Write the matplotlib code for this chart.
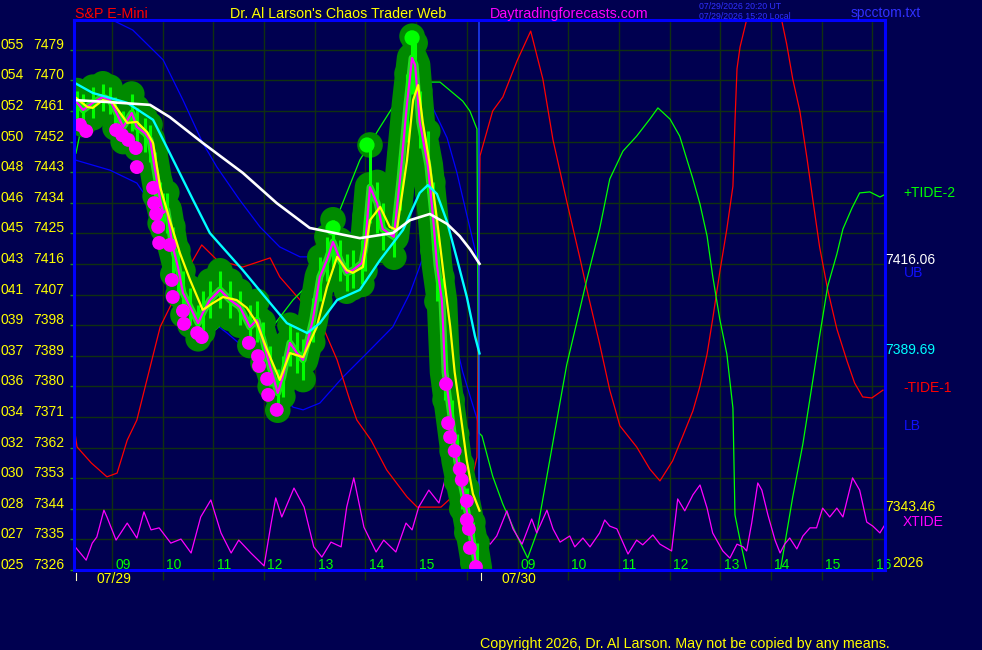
import matplotlib
matplotlib.use('Agg')
import matplotlib.pyplot as plt

W, H = 982, 650
FONT = ['Liberation Sans', 'DejaVu Sans']
BG = '#000050'
GRID = '#103010'

# ---------------- data (time in hours from 08:15 on 07/29; prices) ----------------
price_ticks = [7326, 7335, 7344, 7353, 7362, 7371, 7380, 7389, 7398, 7407,
               7416, 7425, 7434, 7443, 7452, 7461, 7470, 7479]
tick_codes = ['025', '027', '028', '030', '032', '034', '036', '037', '039', '041',
              '043', '045', '046', '048', '050', '052', '054', '055']
hour_grid = [0.75 + k for k in range(16)]
day1_hours = ['09', '10', '11', '12', '13', '14', '15']
day2_hours = ['09', '10', '11', '12', '13', '14', '15', '16']
day_labels = ['07/29', '07/30']
day_starts = [0.0, 8.0]

price_t = [0.06, 0.18, 0.37, 0.57, 0.71, 0.81, 0.97, 1.14, 1.24, 1.40, 1.50, 1.60, 1.70,
           1.76, 1.83, 1.95, 2.05, 2.15, 2.29, 2.45, 2.54, 2.68, 2.88, 3.08, 3.27, 3.47,
           3.61, 3.73, 3.87, 4.02, 4.12, 4.26, 4.40, 4.52, 4.71, 4.85, 4.99, 5.11, 5.25,
           5.38, 5.50, 5.68, 5.74, 5.84, 5.98, 6.09, 6.31, 6.43, 6.57, 6.67, 6.73, 6.82,
           6.98, 7.08, 7.16, 7.26, 7.32, 7.46, 7.55, 7.65, 7.75, 7.87, 7.95]
price_c = [7463.4, 7461.3, 7463.4, 7465.1, 7464.2, 7461.3, 7456.3, 7460.4, 7456.3, 7454.5,
           7452.5, 7443.6, 7434.8, 7431.0, 7431.9, 7421.0, 7415.1, 7407.5, 7403.4, 7398.6,
           7401.6, 7405.4, 7408.4, 7405.4, 7403.4, 7397.5, 7399.5, 7393.6, 7385.7, 7378.1,
           7382.8, 7392.8, 7389.8, 7387.8, 7399.5, 7412.2, 7417.2, 7422.5, 7417.2, 7413.4,
           7414.2, 7416.3, 7421.0, 7438.6, 7433.9, 7426.3, 7424.0, 7440.7, 7463.1, 7476.6,
           7474.5, 7457.8, 7445.1, 7430.4, 7415.7, 7405.1, 7384.2, 7368.4, 7358.1, 7350.7,
           7343.4, 7333.6, 7326.3]
price_hi = [7467, 7466, 7468, 7469, 7468, 7465, 7461, 7466, 7462, 7459, 7457, 7449, 7440,
            7437, 7437, 7427, 7420, 7414, 7409, 7404, 7408, 7411, 7414, 7411, 7408, 7404,
            7405, 7399, 7392, 7385, 7389, 7398, 7396, 7394, 7406, 7418, 7424, 7429, 7423,
            7419, 7420, 7423, 7430, 7451, 7440, 7434, 7431, 7448, 7472, 7483, 7481, 7467,
            7455, 7440, 7425, 7412, 7393, 7376, 7366, 7357, 7350, 7340, 7334]
price_lo = [7458, 7457, 7459, 7461, 7460, 7456, 7452, 7455, 7450, 7449, 7446, 7436, 7428,
            7426, 7425, 7413, 7407, 7401, 7398, 7394, 7396, 7400, 7403, 7400, 7398, 7392,
            7393, 7387, 7380, 7373, 7377, 7386, 7384, 7382, 7393, 7405, 7411, 7415, 7411,
            7408, 7409, 7410, 7414, 7428, 7425, 7420, 7418, 7432, 7452, 7466, 7465, 7450,
            7437, 7420, 7405, 7396, 7376, 7361, 7352, 7344, 7337, 7328, 7323]

sell_t = [0.12, 0.24, 0.83, 0.95, 1.07, 1.22, 1.24, 1.56, 1.58, 1.62, 1.66, 1.68, 1.89,
          1.93, 1.95, 2.15, 2.17, 2.43, 2.52, 3.45, 3.63, 3.65, 3.81, 3.83, 4.00,
          7.34, 7.38, 7.42, 7.51, 7.61, 7.65, 7.75, 7.75, 7.79, 7.81, 7.93]
sell_p = [7456.9, 7455.1, 7455.4, 7453.9, 7452.5, 7450.1, 7444.5, 7438.4, 7433.9, 7430.7,
          7426.9, 7422.2, 7421.6, 7411.3, 7406.3, 7402.2, 7398.4, 7395.7, 7394.5, 7392.8,
          7388.9, 7386.0, 7382.2, 7377.5, 7373.1,
          7380.7, 7369.2, 7365.1, 7361.0, 7355.7, 7352.5, 7346.3, 7340.7, 7338.1, 7332.5,
          7326.9]
buy_t = [5.11, 5.78, 6.67]
buy_p = [7426.6, 7451.0, 7482.5]

fast_t = [0.02, 0.26, 0.37, 0.57, 0.77, 1.05, 1.24, 1.44, 1.56, 1.70, 1.89, 2.09, 2.29,
          2.54, 2.74, 2.94, 3.21, 3.41, 3.61, 3.81, 4.06, 4.26, 4.52, 4.79, 4.99, 5.19,
          5.38, 5.50, 5.70, 5.84, 6.04, 6.23, 6.37, 6.57, 6.69, 6.79, 6.88, 7.02, 7.16,
          7.32, 7.42, 7.51, 7.61, 7.75, 7.87, 8.00]
fast_p = [7465.1, 7462.2, 7461.9, 7464.2, 7463.4, 7457.5, 7457.8, 7454.8, 7451.6, 7438.6,
          7428.9, 7419.2, 7411.3, 7402.5, 7404.5, 7406.3, 7405.4, 7403.1, 7398.6, 7390.7,
          7381.9, 7389.8, 7388.6, 7397.5, 7409.2, 7418.1, 7414.2, 7413.4, 7415.1, 7428.9,
          7432.8, 7426.9, 7426.0, 7446.6, 7464.2, 7468.6, 7457.8, 7445.1, 7429.2, 7409.5,
          7397.8, 7384.2, 7373.6, 7358.1, 7348.4, 7343.46]

mid_t = [0.02, 0.37, 1.05, 1.56, 1.83, 2.35, 2.68, 3.33, 3.87, 4.20, 4.60, 4.85, 5.19,
         5.64, 6.04, 6.49, 6.82, 6.98, 7.16, 7.36, 7.55, 7.75, 7.91, 8.00]
mid_p = [7469.2, 7466.3, 7463.4, 7458.4, 7450.4, 7434.8, 7425.1, 7414.2, 7404.5, 7398.6,
         7395.7, 7398.6, 7405.4, 7408.4, 7417.2, 7426.0, 7436.9, 7439.2, 7436.6, 7428.4,
         7417.8, 7406.3, 7394.8, 7389.69]

slow_t = [0.02, 0.71, 1.50, 1.89, 2.54, 3.33, 4.00, 4.65, 5.64, 6.29, 6.63, 7.02, 7.36,
          7.61, 7.81, 8.00]
slow_p = [7464.2, 7463.6, 7462.8, 7459.2, 7451.6, 7442.8, 7433.9, 7426.6, 7423.6, 7425.1,
          7428.9, 7430.7, 7427.8, 7424.2, 7420.4, 7416.06]

ub_t = [0.0, 0.75, 1.16, 1.76, 2.15, 2.54, 2.82, 3.27, 3.67, 4.06, 4.46, 4.71, 5.25,
        5.84, 6.43, 6.73, 6.92, 7.06, 7.36, 7.55, 7.75, 7.95, 8.00]
ub_p = [7493.6, 7487.8, 7484.8, 7476.0, 7464.2, 7451.6, 7444.5, 7434.8, 7426.9, 7421.0,
        7418.1, 7418.1, 7421.6, 7431.9, 7449.5, 7464.2, 7466.6, 7462.5, 7453.1, 7443.1,
        7430.4, 7417.8, 7414.8]
lb_t = [0.02, 0.71, 1.24, 1.70, 2.03, 2.35, 2.68, 3.02, 3.41, 3.81, 4.32, 4.52, 4.85,
        5.31, 5.78, 6.29, 6.63, 6.86, 7.12, 7.42, 7.67, 7.97]
lb_p = [7446.6, 7443.6, 7439.8, 7429.8, 7417.2, 7407.5, 7399.5, 7395.7, 7390.7, 7382.8,
        7373.9, 7373.1, 7375.1, 7382.8, 7389.8, 7397.5, 7407.5, 7416.9, 7409.8, 7399.8,
        7384.2, 7369.5]

tide1_t = [0.02, 0.06, 0.34, 0.65, 0.85, 1.05, 1.24, 1.70, 2.03, 2.35, 2.52, 2.82, 3.33,
           3.87, 4.06, 4.46, 4.91, 5.19, 5.44, 5.58, 5.86, 6.17, 6.57, 6.77, 7.24, 7.61,
           7.83, 7.95, 8.01, 8.26, 8.46, 8.74, 9.01, 9.25, 9.45, 9.72, 9.98, 10.12, 10.37,
           10.57, 10.77, 11.10, 11.36, 11.56, 11.81, 12.01, 12.21, 12.35, 12.49, 12.60,
           12.74, 12.88, 13.00, 13.04, 13.08, 13.14, 13.27, 13.63, 13.96, 14.06, 14.18,
           14.32, 14.46, 14.58, 14.71, 14.87, 15.05, 15.25, 15.40, 15.56, 15.74, 15.96]
tide1_p = [7366.3, 7362.2, 7357.5, 7353.4, 7354.5, 7364.2, 7370.1, 7397.5, 7407.5, 7417.2,
           7421.6, 7417.2, 7415.1, 7417.8, 7412.2, 7405.4, 7397.5, 7387.8, 7376.0, 7370.1,
           7364.2, 7355.4, 7347.5, 7344.5, 7344.5, 7349.5, 7351.6, 7359.2, 7447.8, 7461.0,
           7465.1, 7475.7, 7484.5, 7470.4, 7452.5, 7434.5, 7417.8, 7408.4, 7392.5, 7378.9,
           7368.4, 7362.2, 7355.7, 7352.2, 7358.1, 7365.4, 7372.8, 7380.1, 7389.5, 7399.8,
           7413.6, 7426.3, 7438.9, 7457.8, 7473.4, 7479.8, 7487.8, 7495.1, 7487.8, 7480.7,
           7470.4, 7461.0, 7447.2, 7434.5, 7421.0, 7408.4, 7396.9, 7387.5, 7381.0, 7376.9,
           7376.6, 7378.9]

tide2_t = [0.04, 0.12, 0.22, 0.51, 0.71, 1.05, 1.40, 1.70, 2.03, 2.49, 2.94, 3.41, 3.87,
           4.32, 4.71, 5.19, 5.64, 6.04, 6.29, 6.69, 7.22, 7.67, 7.81, 7.95, 7.97, 7.99,
           8.05, 8.26, 8.46, 8.74, 8.95, 9.13, 9.33, 9.53, 9.72, 9.92, 10.12, 10.37, 10.57,
           10.83, 11.10, 11.36, 11.52, 11.76, 11.95, 12.21, 12.35, 12.49, 12.60, 12.74,
           12.88, 13.00, 13.04, 13.14, 13.27, 13.59, 13.93, 14.06, 14.18, 14.38, 14.58,
           14.71, 14.87, 15.05, 15.17, 15.35, 15.50, 15.70, 15.90, 15.98]
tide2_p = [7448.6, 7454.5, 7458.4, 7460.7, 7461.3, 7460.4, 7445.1, 7426.9, 7412.2, 7392.8,
           7398.6, 7400.4, 7396.6, 7405.4, 7411.3, 7429.8, 7446.6, 7456.3, 7462.2, 7469.5,
           7469.5, 7463.9, 7461.0, 7455.7, 7403.1, 7366.3, 7365.4, 7353.6, 7345.4, 7336.0,
           7329.5, 7336.9, 7353.6, 7370.4, 7386.3, 7398.9, 7411.6, 7426.3, 7441.0, 7449.2,
           7453.6, 7458.6, 7461.9, 7458.6, 7453.6, 7441.0, 7433.6, 7424.2, 7412.5, 7399.8,
           7389.5, 7373.6, 7342.2, 7334.8, 7326.0, 7320.1, 7325.4, 7336.9, 7347.5, 7363.1,
           7382.2, 7394.8, 7409.5, 7418.9, 7426.3, 7432.5, 7436.9, 7437.2, 7435.7, 7436.3]

xtide_t = [0.04, 0.24, 0.36, 0.45, 0.59, 0.65, 0.83, 1.05, 1.24, 1.38, 1.52, 1.68, 1.91,
           2.11, 2.31, 2.50, 2.70, 2.90, 3.10, 3.25, 3.49, 3.75, 3.89, 3.98, 4.10, 4.34,
           4.54, 4.73, 4.89, 5.07, 5.27, 5.38, 5.52, 5.72, 5.96, 6.11, 6.35, 6.55, 6.67,
           6.80, 7.00, 7.20, 7.36, 7.50, 7.75, 7.87, 8.21, 8.34, 8.54, 8.66, 8.84, 9.03,
           9.13, 9.33, 9.45, 9.59, 9.78, 9.88, 10.04, 10.18, 10.37, 10.47, 10.57, 10.71,
           10.93, 11.10, 11.22, 11.42, 11.56, 11.79, 11.91, 12.05, 12.21, 12.35, 12.49,
           12.60, 12.80, 12.94, 13.08, 13.20, 13.27, 13.37, 13.49, 13.57, 13.69, 13.83,
           13.93, 14.02, 14.12, 14.26, 14.38, 14.52, 14.65, 14.77, 14.91, 15.05, 15.17,
           15.36, 15.50, 15.64, 15.76, 15.90, 15.98]
xtide_p = [7332.5, 7328.9, 7333.9, 7335.7, 7343.6, 7341.6, 7334.8, 7339.8, 7335.4, 7343.1,
           7337.8, 7338.4, 7333.9, 7335.1, 7331.0, 7341.6, 7346.6, 7336.9, 7331.0, 7334.8,
           7331.0, 7327.2, 7339.8, 7347.2, 7341.6, 7350.1, 7344.5, 7332.8, 7329.8, 7334.2,
           7332.8, 7344.5, 7353.1, 7338.6, 7331.3, 7334.8, 7331.3, 7339.8, 7337.8, 7344.5,
           7349.5, 7345.7, 7354.8, 7349.5, 7340.7, 7338.1, 7333.6, 7336.0, 7343.4, 7338.1,
           7333.6, 7341.0, 7336.9, 7343.6, 7338.1, 7334.2, 7336.0, 7332.8, 7335.4, 7332.8,
           7336.9, 7340.7, 7338.9, 7338.1, 7330.7, 7334.8, 7333.4, 7336.3, 7333.6, 7331.6,
           7346.9, 7343.4, 7348.1, 7351.0, 7344.2, 7336.9, 7331.6, 7329.5, 7333.6, 7332.8,
           7331.6, 7339.8, 7351.6, 7349.5, 7342.2, 7334.8, 7331.0, 7333.6, 7335.4, 7332.2,
           7336.0, 7338.4, 7338.4, 7344.2, 7341.6, 7344.2, 7341.6, 7353.1, 7349.5, 7340.1,
           7338.9, 7336.9, 7338.9]

now_t = 8.0

# ---------------- figure ----------------
fig = plt.figure(figsize=(W / 100, H / 100), dpi=100)
fig.patch.set_facecolor(BG)
ax = fig.add_axes([74 / W, 80 / H, 811 / W, 550 / H])
ax.set_facecolor(BG)
ax.set_xlim(0, 16)
ax.set_ylim(7326, 7487.76)

ax.set_yticks(price_ticks)
ax.set_xticks(hour_grid)
ax.grid(True, color=GRID, lw=1.0, zorder=0)
ax.tick_params(axis='y', length=3, width=1, color='#1E8C1E', direction='out',
               labelleft=False)
ax.tick_params(axis='x', length=7.5, width=1, color=GRID, direction='out',
               labelbottom=False)
for s in ax.spines.values():
    s.set_color('#0000FF')
    s.set_linewidth(2.2)
    s.set_zorder(20)

# thin forecast / band lines
ax.plot(ub_t, ub_p, color='#0000FF', lw=0.9, zorder=2)
ax.plot(lb_t, lb_p, color='#0000FF', lw=0.9, zorder=2)
ax.plot(tide1_t, tide1_p, color='#FF0000', lw=0.9, zorder=2)
ax.plot(tide2_t, tide2_p, color='#00FF00', lw=0.9, zorder=2)
ax.plot(xtide_t, xtide_p, color='#FF00FF', lw=0.9, zorder=2)
ax.axvline(now_t, color='#2040FF', lw=1.1, zorder=2.5)

# price blob
ax.plot(price_t, price_c, color='#008A00', lw=22, solid_capstyle='round',
        solid_joinstyle='round', zorder=3)
ax.scatter(price_t + price_t, price_hi + price_lo, s=340, color='#008A00',
           edgecolors='none', zorder=3)
ax.plot(price_t, price_c, color='#22DD22', lw=5, solid_joinstyle='round', zorder=4)
ax.vlines(price_t, price_lo, price_hi, color='#00FF00', lw=2.2, zorder=4)
ax.scatter(buy_t, buy_p, s=120, color='#00FF00', edgecolors='none', zorder=4.5)
ax.plot(price_t, price_c, color='#FF00FF', lw=1.6, zorder=5)
ax.scatter(sell_t, sell_p, s=100, color='#FF00FF', edgecolors='none', zorder=6)

# averages
ax.plot(fast_t, fast_p, color='#FFFF00', lw=1.6, zorder=7)
ax.plot(mid_t, mid_p, color='#00FFFF', lw=1.7, zorder=8)
ax.plot(slow_t, slow_p, color='#FFFFFF', lw=1.9, zorder=9)

# left price labels
ytr = ax.get_yaxis_transform()
for p, c in zip(price_ticks, tick_codes):
    ax.text((24 - 74) / 811, p + 0.3, c, transform=ytr, ha='right', va='baseline',
            color='#FFFF00', fontsize=10, family=FONT, clip_on=False)
    ax.text((64 - 74) / 811, p + 0.3, str(p), transform=ytr, ha='right', va='baseline',
            color='#FFFF00', fontsize=10, family=FONT, clip_on=False)

# hour labels
for t, lab in zip(hour_grid[:7], day1_hours):
    ax.text(t + 0.065, 7326.4, lab, color='#00FF00', fontsize=10, family=FONT,
            ha='left', va='baseline', zorder=15)
for t, lab in zip(hour_grid[8:], day2_hours):
    ax.text(t + 0.065, 7326.4, lab, color='#00FF00', fontsize=10, family=FONT,
            ha='left', va='baseline', zorder=15)

# day labels and markers below axis
for t, lab in zip(day_starts, day_labels):
    ax.text(t + 0.44, 7326 - 3.8, lab, color='#FFFF00', fontsize=10, family=FONT,
            ha='left', va='baseline', clip_on=False)
    ax.plot([t + 0.03, t + 0.03], [7326 - 0.8, 7326 - 2.9], color='#FFFFC0', lw=0.8,
            clip_on=False, zorder=21)


def ftext(x, y, s, color, size=10.3, ha='left'):
    fig.text(x / W, 1 - y / H, s, color=color, fontsize=size, ha=ha, va='baseline',
             family=FONT)


# header
ftext(75, 18, 'S&P E-Mini', '#FF0000')
ftext(230, 18, "Dr. Al Larson's Chaos Trader Web", '#FFFF00')
ftext(490, 18, 'Daytradingforecasts.com', '#FF00FF')
ftext(699, 9, '07/29/2026 20:20 UT', '#3030FF', size=6.3)
ftext(699, 19, '07/29/2026 15:20 Local', '#3030FF', size=6.3)
ftext(851, 17, 'spcctom.txt', '#3030FF', size=10)

# right-side labels
ftext(903, 197, '+TIDE-2', '#00FF00', size=10)
ftext(885, 264, '7416.06', '#FFFFFF', size=10)
ftext(904, 277, 'UB', '#1010FF', size=10)
ftext(885, 354, '7389.69', '#00FFFF', size=10)
ftext(903, 392, '-TIDE-1', '#FF0000', size=10)
ftext(904, 430, 'LB', '#1010FF', size=10)
ftext(885, 511, '7343.46', '#FFFF00', size=10)
ftext(903, 526, 'XTIDE', '#FF00FF', size=10)
ftext(892, 567, '2026', '#FFFF00', size=10)

# copyright
ftext(480, 648, 'Copyright 2026, Dr. Al Larson. May not be copied by any means.', '#FFFF00')

fig.savefig('out.png', dpi=100, facecolor=BG)
